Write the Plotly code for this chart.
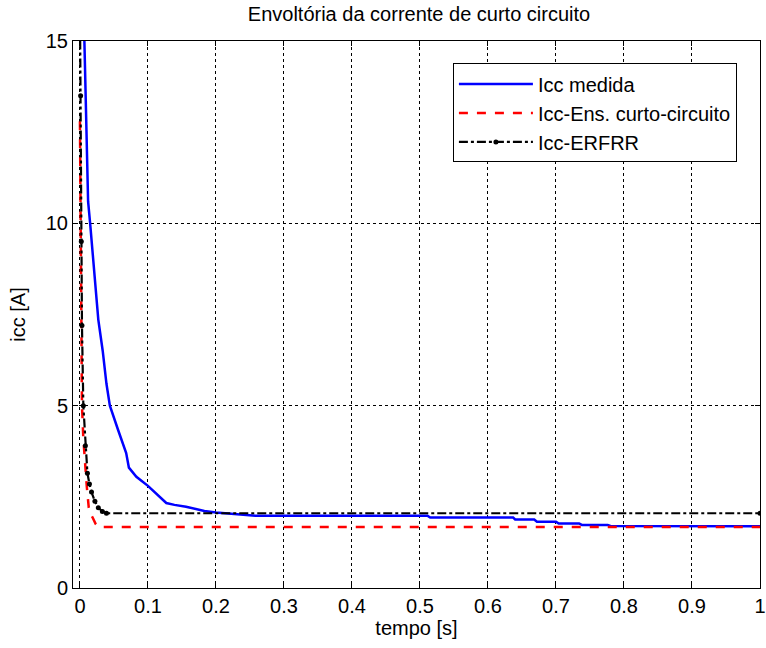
import plotly.graph_objects as go

# Icc medida (blue)
t_med = [0.0063, 0.008, 0.010, 0.012, 0.015, 0.018, 0.021, 0.025, 0.027, 0.0335, 0.039, 0.044,
         0.056, 0.061, 0.068, 0.072, 0.083, 0.100, 0.112, 0.120, 0.127, 0.139, 0.156, 0.183,
         0.200, 0.258, 0.511, 0.515, 0.637, 0.640, 0.668, 0.672, 0.700, 0.704, 0.734, 0.738,
         0.776, 0.780, 1.0]
i_med = [15.2, 14.0, 12.2, 10.6, 10.0, 9.4, 8.7, 7.8, 7.36, 6.5, 5.6, 5.0,
         4.34, 4.06, 3.7, 3.3, 3.05, 2.80, 2.60, 2.45, 2.33, 2.28, 2.23, 2.11,
         2.07, 1.98, 1.98, 1.93, 1.93, 1.88, 1.88, 1.82, 1.82, 1.77, 1.77, 1.73,
         1.73, 1.70, 1.69]

# Icc-Ens. curto-circuito (red dashed)
t_ens = [0.0, 0.001, 0.002, 0.003, 0.005, 0.008, 0.010, 0.013, 0.016, 0.019, 0.023, 0.027, 1.0]
i_ens = [12.8, 9.0, 6.6, 5.0, 4.1, 3.15, 2.8, 2.2, 2.02, 1.92, 1.76, 1.67, 1.67]

# Icc-ERFRR (black dash-dot with markers)
t_erf = [0.0, 0.001, 0.002, 0.003, 0.005, 0.008, 0.011, 0.014, 0.017, 0.022, 0.027, 0.033, 0.039, 1.0]
i_erf = [16.0, 13.5, 9.5, 7.2, 5.0, 3.9, 3.15, 2.85, 2.63, 2.38, 2.2, 2.1, 2.05, 2.05]

x_ticks = [0, 0.1, 0.2, 0.3, 0.4, 0.5, 0.6, 0.7, 0.8, 0.9, 1.0]
x_tick_labels = ["0", "0.1", "0.2", "0.3", "0.4", "0.5", "0.6", "0.7", "0.8", "0.9", "1"]
y_ticks = [0, 5, 10, 15]
y_tick_labels = ["0", "5", "10", "15"]

FONT = "Liberation Sans, Arial, sans-serif"
FS = 20

fig = go.Figure()
fig.add_trace(go.Scatter(x=t_med, y=i_med, mode="lines", name="Icc medida",
                         line=dict(color="#0000ff", width=2.5)))
fig.add_trace(go.Scatter(x=t_ens, y=i_ens, mode="lines", name="Icc-Ens. curto-circuito",
                         line=dict(color="#ff0000", width=2.5, dash="dash")))
fig.add_trace(go.Scatter(x=t_erf, y=i_erf, mode="lines+markers", name="Icc-ERFRR",
                         line=dict(color="#000000", width=2.2, dash="dashdot"),
                         marker=dict(symbol="circle", size=5, color="#000000")))

axis_common = dict(
    showline=True, linecolor="black", linewidth=1, mirror="ticks",
    ticks="inside", ticklen=5, tickcolor="black",
    showgrid=True, gridcolor="black", griddash="dot", gridwidth=1,
    zeroline=False,
    tickfont=dict(family=FONT, size=FS, color="black"),
)

fig.update_xaxes(range=[-0.0102, 1.0], tickvals=x_ticks, ticktext=x_tick_labels,
                 ticklabeloverflow="allow",
                 title=dict(text="tempo [s]", font=dict(family=FONT, size=FS, color="black"), standoff=4),
                 **axis_common)
fig.update_yaxes(range=[0, 15], tickvals=y_ticks, ticktext=y_tick_labels,
                 title=dict(text="icc [A]", font=dict(family=FONT, size=FS, color="black"), standoff=14),
                 **axis_common)

fig.update_layout(
    width=766, height=648,
    margin=dict(l=73, r=0, t=41, b=60),
    paper_bgcolor="white", plot_bgcolor="white",
    title=dict(text="Envoltória da corrente de curto circuito", x=0.547, xanchor="center",
               y=0.978, yanchor="middle",
               font=dict(family=FONT, size=FS, color="black")),
    font=dict(family=FONT, size=FS, color="black"),
    legend=dict(x=0.553, y=0.959, xanchor="left", yanchor="top",
                bgcolor="white", bordercolor="black", borderwidth=1,
                font=dict(family=FONT, size=FS, color="black"),
                itemwidth=74),
)

fig.write_html("out.html")
